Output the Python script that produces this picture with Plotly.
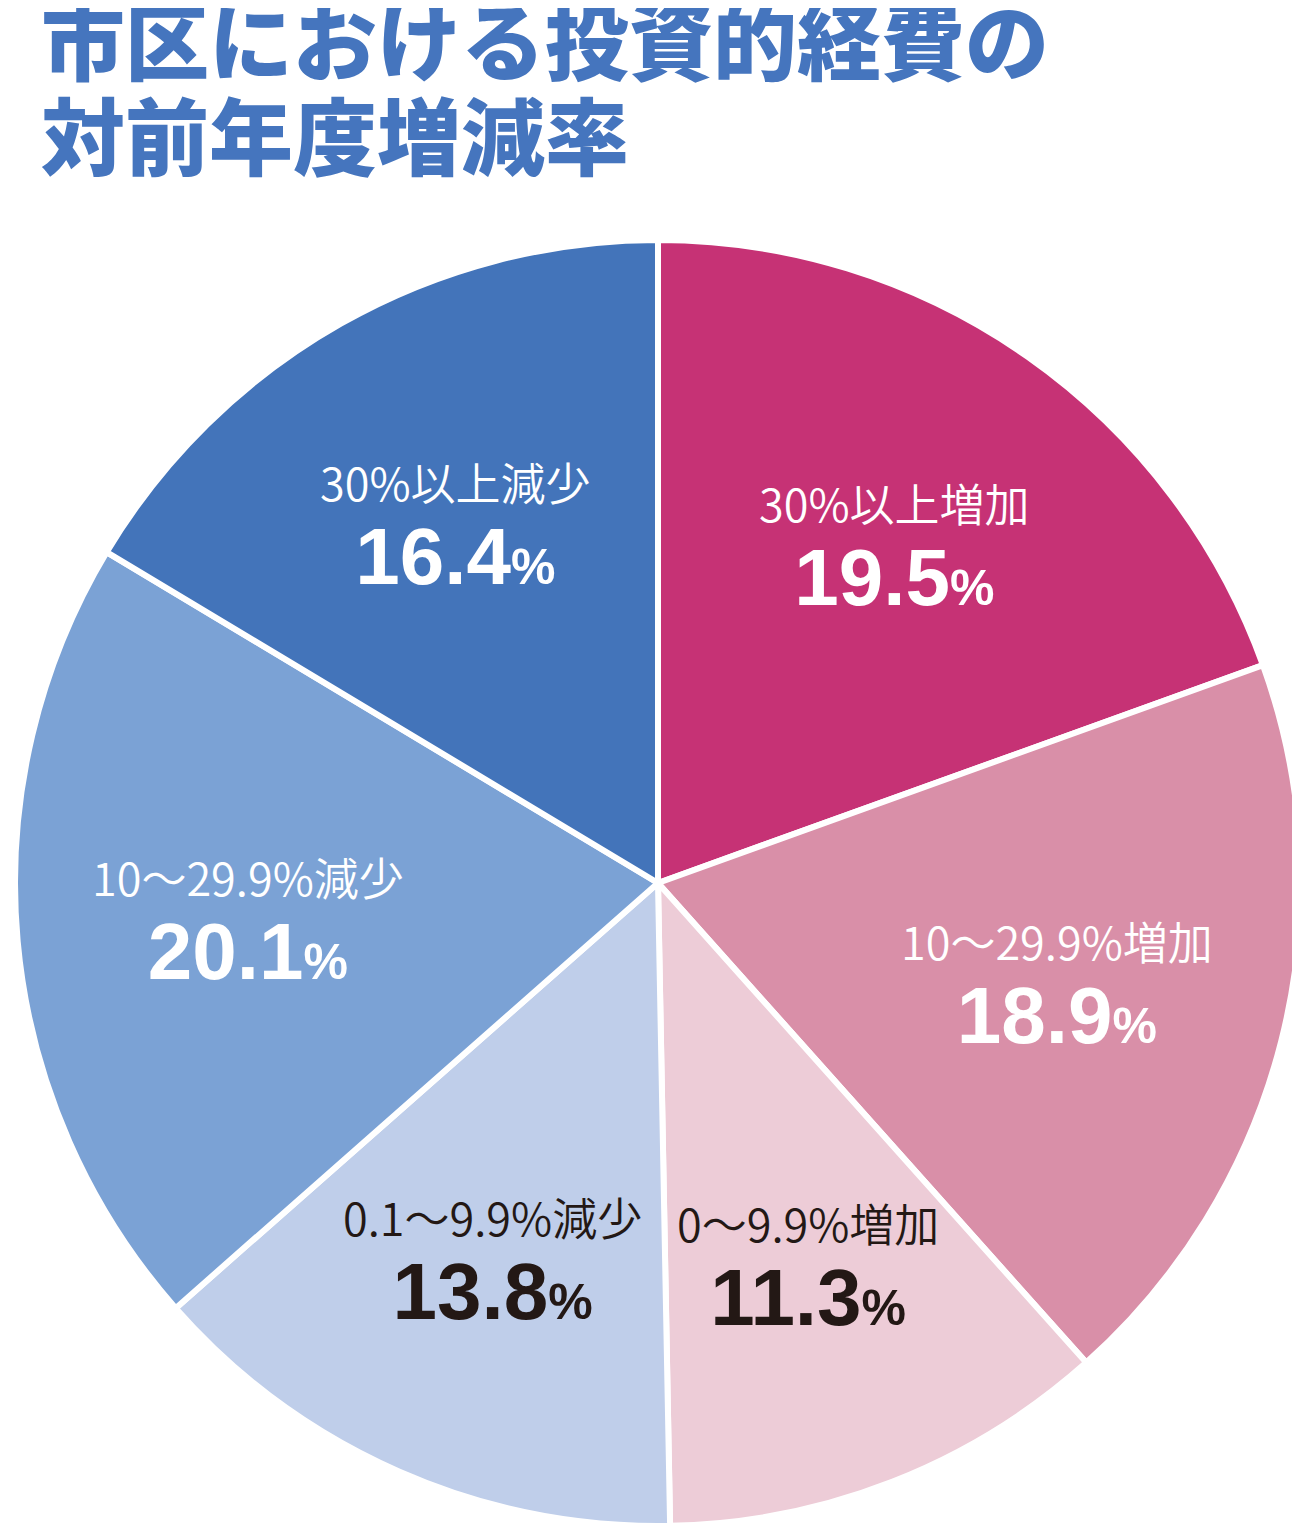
import math
import plotly.graph_objects as go

# 区分（時計回り、上から）
kubun = ["30%以上増加", "10～29.9%増加", "0～9.9%増加",
         "0.1～9.9%減少", "10～29.9%減少", "30%以上減少"]
wariai = [19.5, 18.9, 11.3, 13.8, 20.1, 16.4]
iro = ["#C63275", "#D98FA8", "#EDCCD7", "#BFCEEA", "#7BA2D5", "#4374BA"]
moji_iro = ["white", "white", "#231815", "#231815", "white", "white"]

midashi = ["市区における投資的経費の", "対前年度増減率"]

W, H = 1300, 1523
dom_x = [0.0054, 0.9946]
dom_y = [0.0033, 0.8477]

fig = go.Figure(go.Pie(
    labels=kubun,
    values=wariai,
    sort=False,
    direction="clockwise",
    rotation=0,
    marker=dict(colors=iro, line=dict(color="white", width=6)),
    textinfo="none",
    hoverinfo="label+percent",
    domain=dict(x=dom_x, y=dom_y),
    showlegend=False,
))

# ラベルは各扇形の中心線上に置く
cx = (dom_x[0] + dom_x[1]) / 2 * W
cy = (1 - (dom_y[0] + dom_y[1]) / 2) * H
r = min((dom_x[1] - dom_x[0]) * W, (dom_y[1] - dom_y[0]) * H) / 2
ruiseki = 0
goukei = sum(wariai)
for lab, v, c in zip(kubun, wariai, moji_iro):
    th = 2 * math.pi * (ruiseki + v / 2) / goukei
    ruiseki += v
    px = cx + 0.64 * r * math.sin(th)
    py = cy - 0.64 * r * math.cos(th)
    fig.add_annotation(
        text=f"<span style='font-size:45px;font-family:Noto Sans CJK JP;font-weight:350'>{lab}</span><br>"
             f"<b><span style='font-size:80px'>{v:.1f}</span><span style='font-size:50px'>%</span></b>",
        xref="paper", yref="paper", x=px / W, y=1 - py / H,
        xanchor="center", yanchor="middle", showarrow=False,
        font=dict(family="Liberation Sans, Noto Sans CJK JP", size=64, color=c),
    )

# 見出し（2行、行間をつめる）
fig.add_annotation(
    text="<br>".join(f"<span style='font-size:84px'>{g}</span>" for g in midashi),
    xref="paper", yref="paper",
    x=0.0238, y=0.9494,
    xanchor="left", yanchor="middle", align="left", showarrow=False,
    font=dict(family="Noto Sans CJK JP", size=73, color="#4575BE", weight=900),
)

fig.update_layout(
    width=W,
    height=H,
    margin=dict(l=0, r=0, t=0, b=0),
    paper_bgcolor="white",
)

fig.write_html("out.html")
